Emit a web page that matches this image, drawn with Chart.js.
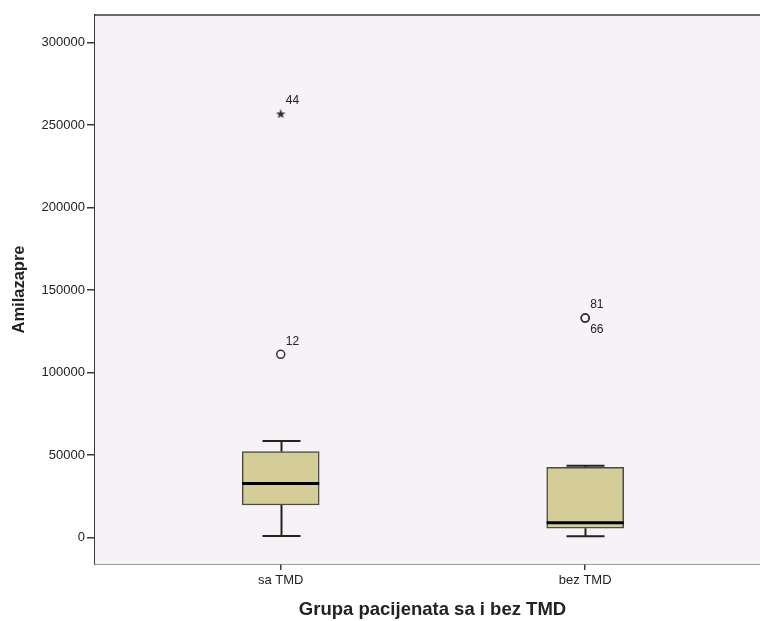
<!DOCTYPE html>
<html>
<head>
<meta charset="utf-8">
<script src="https://cdn.jsdelivr.net/npm/chart.js@4.4.1/dist/chart.umd.min.js"></script>
<style>
  html, body { margin: 0; padding: 0; background: #ffffff; overflow: hidden; }
  #wrap { width: 760px; height: 621px; position: relative; overflow: hidden; }
</style>
</head>
<body>
<!-- the original plot runs past the right edge of the picture, so the canvas is wider than the window -->
<div id="wrap"><canvas id="boxChart" width="776" height="621"></canvas></div>
<script>
// categories and box statistics
const categories = ['sa TMD', 'bez TMD'];
const categoryPos = [1, 2];
const whiskerLow = [900, 700];
const q1 = [19700, 5600];
const median = [32800, 9000];
const q3 = [52000, 42500];
const whiskerHigh = [58500, 43500];

// outliers (circles) and extremes (stars), with case numbers
const outlierGroup = [0, 1, 1];
const outlierValue = [111000, 133000, 133000];
const outlierId = ['12', '81', '66'];
const extremeGroup = [0];
const extremeValue = [257000];
const extremeId = ['44'];

const yTicks = [0, 50000, 100000, 150000, 200000, 250000, 300000];

const axisColor = '#3a3a3a';
const textColor = '#222222';
const fontFamily = "'Liberation Sans', Arial, sans-serif";

// small filled star marker for extreme values
function makeStar(size, color) {
    const c = document.createElement('canvas');
    c.width = size; c.height = size;
    const g = c.getContext('2d');
    const r = size / 2, ri = r * 0.42;
    g.fillStyle = color;
    g.beginPath();
    for (let k = 0; k < 10; k++) {
        const rad = k % 2 ? ri : r;
        const a = -Math.PI / 2 + k * Math.PI / 5;
        const px = r + rad * Math.cos(a), py = r + 0.6 + rad * Math.sin(a);
        if (k === 0) g.moveTo(px, py); else g.lineTo(px, py);
    }
    g.closePath();
    g.fill();
    return c;
}

// whiskers, medians, frame and case labels
const boxExtras = {
    id: 'boxExtras',
    beforeDatasetsDraw(chart) {
        const { ctx, chartArea } = chart;
        ctx.save();
        ctx.fillStyle = '#f6f2f6';
        ctx.fillRect(chartArea.left, chartArea.top, chartArea.right - chartArea.left, chartArea.bottom - chartArea.top);
        const x = chart.scales.x, y = chart.scales.y;
        ctx.strokeStyle = '#222222';
        ctx.lineWidth = 2;
        categories.forEach((c, i) => {
            const cx = Math.round(x.getPixelForValue(categoryPos[i])) + 0.5;
            const half = 19;
            ctx.beginPath();
            ctx.moveTo(cx, y.getPixelForValue(q3[i]));
            ctx.lineTo(cx, y.getPixelForValue(whiskerHigh[i]));
            ctx.moveTo(cx, y.getPixelForValue(q1[i]));
            ctx.lineTo(cx, y.getPixelForValue(whiskerLow[i]));
            ctx.moveTo(cx - half, y.getPixelForValue(whiskerHigh[i]));
            ctx.lineTo(cx + half, y.getPixelForValue(whiskerHigh[i]));
            ctx.moveTo(cx - half, y.getPixelForValue(whiskerLow[i]));
            ctx.lineTo(cx + half, y.getPixelForValue(whiskerLow[i]));
            ctx.stroke();
        });
        ctx.restore();
    },
    afterDatasetsDraw(chart) {
        const { ctx, chartArea } = chart;
        const x = chart.scales.x, y = chart.scales.y;
        const bar = chart.getDatasetMeta(0).data;
        ctx.save();
        // medians
        ctx.strokeStyle = '#000000';
        ctx.lineWidth = 3;
        categories.forEach((c, i) => {
            const el = bar[i];
            const my = y.getPixelForValue(median[i]);
            ctx.beginPath();
            ctx.moveTo(el.x - el.width / 2, my);
            ctx.lineTo(el.x + el.width / 2, my);
            ctx.stroke();
        });
        // top frame line
        ctx.strokeStyle = axisColor;
        ctx.lineWidth = 1.5;
        ctx.beginPath();
        ctx.moveTo(chartArea.left, chartArea.top);
        ctx.lineTo(chartArea.right, chartArea.top);
        ctx.stroke();
        // case numbers
        ctx.fillStyle = textColor;
        ctx.font = '12px ' + fontFamily;
        ctx.textBaseline = 'middle';
        const seen = {};
        const label = (g, v, id) => {
            const px = x.getPixelForValue(categoryPos[g]);
            const py = y.getPixelForValue(v);
            const key = g + ':' + v;
            const dy = seen[key] ? 12 : -13;
            seen[key] = true;
            ctx.fillText(id, px + 5, py + dy);
        };
        outlierValue.forEach((v, i) => label(outlierGroup[i], v, outlierId[i]));
        extremeValue.forEach((v, i) => label(extremeGroup[i], v, extremeId[i]));
        ctx.restore();
    }
};

const ctx = document.getElementById('boxChart').getContext('2d');
new Chart(ctx, {
    type: 'bar',
    data: {
        datasets: [{
            label: 'box',
            data: categories.map((c, i) => ({ x: categoryPos[i], y: [q1[i], q3[i]] })),
            backgroundColor: '#d5cd97',
            borderColor: '#4a4a4a',
            borderWidth: 1.5,
            borderSkipped: false,
            barThickness: 77,
            order: 2
        }, {
            type: 'scatter',
            label: 'outliers',
            data: outlierValue.map((v, i) => ({ x: categoryPos[outlierGroup[i]], y: v })),
            pointStyle: 'circle',
            pointRadius: 4,
            backgroundColor: 'rgba(0,0,0,0)',
            borderColor: '#333333',
            borderWidth: 1.5,
            order: 1
        }, {
            type: 'scatter',
            label: 'extremes',
            data: extremeValue.map((v, i) => ({ x: categoryPos[extremeGroup[i]], y: v })),
            pointStyle: makeStar(10, '#333333'),
            pointRadius: 5,
            order: 1
        }]
    },
    options: {
        responsive: false,
        animation: false,
        layout: { padding: { top: 15, right: 0, left: 0, bottom: 0 } },
        plugins: {
            legend: { display: false },
            tooltip: { enabled: false }
        },
        scales: {
            x: {
                type: 'linear',
                offset: false,
                min: 0.39,
                max: 2.607,
                afterBuildTicks: (s) => { s.ticks = categoryPos.map(v => ({ value: v })); },
                afterFit: (s) => { s.height = 57; s.paddingRight = 0; s.paddingLeft = 0; },
                border: { display: true, color: axisColor, width: 1.5 },
                grid: { offset: false, drawOnChartArea: false, drawTicks: true, tickLength: 6, color: axisColor, lineWidth: 1.5 },
                ticks: {
                    color: textColor,
                    padding: 3,
                    font: { family: fontFamily, size: 13 },
                    callback: (v) => categories[categoryPos.indexOf(v)] || ''
                },
                title: {
                    display: true,
                    text: 'Grupa pacijenata sa i bez TMD',
                    color: textColor,
                    font: { family: fontFamily, size: 18.5, weight: 'bold' },
                    padding: { top: 3, bottom: 0 }
                }
            },
            y: {
                type: 'linear',
                min: -16060,
                max: 316670,
                afterBuildTicks: (s) => { s.ticks = yTicks.map(v => ({ value: v })); },
                afterFit: (s) => { s.width = 95; },
                border: { display: true, color: axisColor, width: 1.5 },
                grid: { drawOnChartArea: false, drawTicks: true, tickLength: 8, color: axisColor, lineWidth: 1.5 },
                ticks: {
                    color: textColor,
                    padding: 2,
                    font: { family: fontFamily, size: 13 },
                    callback: (v) => String(v)
                },
                title: {
                    display: true,
                    text: 'Amilazapre',
                    color: textColor,
                    font: { family: fontFamily, size: 16.5, weight: 'bold' },
                    padding: { top: 10, bottom: 0 }
                }
            }
        }
    },
    plugins: [boxExtras]
});
</script>
</body>
</html>
